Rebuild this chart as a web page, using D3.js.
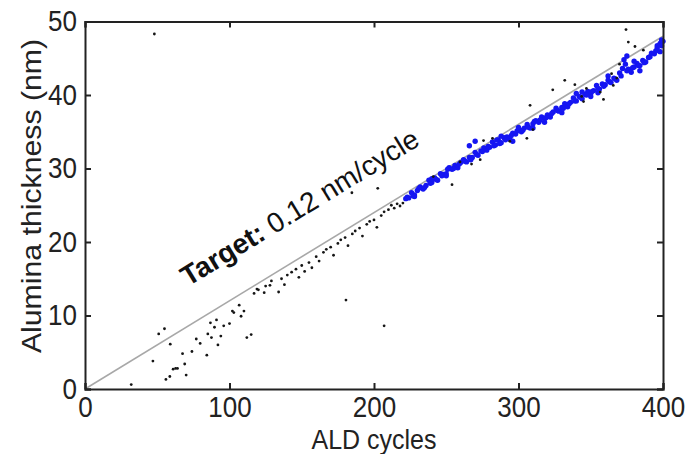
<!DOCTYPE html>
<html>
<head>
<meta charset="utf-8">
<script src="https://cdn.jsdelivr.net/npm/d3@7/dist/d3.min.js"></script>
<style>
  html, body { margin: 0; padding: 0; background: #fff; }
  svg { display: block; font-family: "Liberation Sans", Arial, Helvetica, sans-serif; }
</style>
</head>
<body>
<svg id="chart" width="686" height="454"></svg>
<script>
// Axis ticks
const xTicks = [0, 100, 200, 300, 400];
const yTicks = [0, 10, 20, 30, 40, 50];

// Target growth rate (nm per ALD cycle)
const targetRate = 0.12;
const targetCycles = [0, 400];

// In-situ measurements, early growth and stray readings (black)
const blackX = [32, 48, 47, 51, 55, 59, 56, 58.7, 61, 62.7, 64, 67.5, 70, 69, 74, 77, 79.7, 84.3, 85, 87.5,
  86.8, 89.6, 91, 92, 94, 96, 100, 102, 103, 106.7, 108, 110, 112, 115, 117, 119, 120, 124, 125, 128,
  129, 134, 136, 138, 140, 143, 146, 148, 150, 152, 155, 157, 160, 162, 165, 167, 170, 172, 175, 177,
  180, 180.6, 182, 185, 184.7, 187, 190, 192, 195, 197, 200, 202, 202.6, 205, 207, 207, 210, 212, 214, 216,
  218, 220,
  241, 254, 259.5, 267.5, 273.5, 275.8, 282, 294, 305.8, 308, 310, 323.7, 332, 339, 343.7, 345, 347,
  356.6, 358.8, 364.4, 365.6, 368, 369.9, 374.4, 376, 380.6, 386.4];
const blackY = [0.6, 48.3, 3.8, 7.5, 8.2, 6.1, 1.3, 1.7, 2.7, 2.8, 2.8, 4.8, 1.9, 3.4, 5.1, 6.8, 6.2, 4.6, 7.5, 7.0,
  9.0, 8.4, 9.4, 6.0, 7.2, 8.6, 8.9, 10.6, 10.4, 11.4, 9.9, 10.6, 7.0, 7.4, 13.0, 13.6, 13.5, 13.1, 14.0, 14.1,
  14.7, 13.2, 15.0, 14.2, 15.5, 15.9, 16.3, 15.2, 16.8, 16.0, 17.2, 16.5, 18.0, 17.4, 18.6, 19.0, 19.3, 18.2, 19.8, 20.3,
  20.6, 12.1, 19.5, 21.1, 26.7, 21.5, 21.9, 20.8, 22.4, 22.8, 23.0, 22.0, 27.3, 23.6, 24.1, 8.6, 24.4, 25.0, 24.6, 25.2,
  24.9, 25.3,
  28.9, 27.8, 30.9, 30.6, 31.2, 33.8, 34.1, 33.7, 34.1, 38.6, 35.3, 40.7, 42.0, 41.4, 39.8, 39.1, 40.9,
  40.4, 39.4, 42.9, 41.3, 42.3, 44.2, 48.9, 47.2, 46.6, 46.1];

// Later growth measurements (blue)
const blueX = [222, 224, 226, 228, 230, 232, 234, 236, 238, 240, 242, 244, 246, 248, 250, 252, 254, 256, 258, 260,
  262, 264, 266, 268, 270, 272, 274, 276, 278, 280, 282, 284, 286, 288, 290, 292, 294, 296, 298, 300,
  302, 304, 306, 308, 310, 312, 314, 316, 318, 320, 322, 324, 326, 328, 330, 332, 334, 336, 338, 340,
  342, 344, 346, 348, 350, 352, 354, 356, 358, 360, 362, 364, 366, 368, 370, 372, 374, 376, 378, 380,
  382, 384, 386, 388, 390, 392, 394, 396, 398, 400,
  223, 227, 231, 235, 239, 243, 247, 251, 255, 259, 263, 267, 271, 275, 279, 283, 287, 291, 295, 299,
  303, 307, 311, 315, 319, 323, 327, 331, 335, 339, 343, 347, 351, 355, 359, 363, 367, 371, 375, 379,
  383, 387, 391, 395, 399,
  266, 270, 285, 300, 296, 330, 350, 375, 373, 380, 384, 362, 340, 396, 399, 398, 355, 318, 310, 250,
  240, 228, 288, 344];
const blueY = [25.9, 26.0, 26.7, 26.4, 27.0, 27.5, 27.2, 27.7, 28.4, 28.1, 28.7, 28.4, 29.3, 29.2, 29.3, 30.1, 29.9, 30.4, 30.1, 30.8,
  31.2, 30.9, 31.5, 31.5, 32.2, 31.8, 32.4, 32.8, 32.5, 32.9, 33.6, 33.2, 33.9, 33.5, 34.2, 34.3, 34.0, 34.8, 34.7, 35.3,
  35.0, 35.5, 36.0, 35.5, 36.1, 36.5, 36.3, 37.0, 36.8, 37.3, 37.0, 37.7, 38.2, 37.8, 38.3, 38.8, 38.4, 39.0, 39.6, 39.2,
  39.8, 39.5, 40.1, 40.5, 40.2, 40.6, 41.3, 40.8, 41.5, 41.4, 42.0, 41.7, 42.3, 42.0, 43.0, 43.6, 44.2, 43.5, 43.1, 43.8,
  44.3, 44.0, 44.7, 44.5, 45.1, 45.7, 45.6, 46.4, 47.0, 47.3,
  26.1, 26.3, 27.3, 27.4, 28.0, 28.5, 29.0, 29.9, 30.0, 30.6, 31.0, 31.2, 31.9, 32.3, 33.0, 33.1, 33.4, 33.9, 34.5, 35.1,
  35.2, 35.6, 36.4, 36.6, 36.9, 37.5, 37.9, 38.2, 38.8, 39.2, 39.7, 40.0, 40.5, 40.9, 41.2, 41.8, 42.2, 42.6, 43.3, 43.7,
  44.0, 44.4, 45.2, 46.0, 46.7,
  33.1, 33.7, 33.9, 35.6, 33.7, 37.6, 39.8, 45.3, 44.8, 44.6, 43.3, 42.6, 40.2, 46.7, 47.5, 45.9, 40.3, 36.3, 35.5, 29.0,
  28.6, 26.2, 34.4, 40.4];

const svg = d3.select("#chart");
const margin = { left: 85, right: 23, top: 21.5, bottom: 65 };
const W = 686, H = 454;
const x = d3.scaleLinear().domain([0, 400]).range([margin.left, W - margin.right]);
const y = d3.scaleLinear().domain([0, 50]).range([H - margin.bottom, margin.top]);

const x0 = x.range()[0], x1 = x.range()[1];
const y0 = y.range()[0], y1 = y.range()[1];

// Axis text is set slightly tall
const textStretch = 1.1;
const fontSize = 25;

// Target line
svg.append("line")
  .attr("x1", x(targetCycles[0])).attr("y1", y(targetRate * targetCycles[0]))
  .attr("x2", x(targetCycles[1])).attr("y2", y(targetRate * targetCycles[1]))
  .attr("stroke", "#a8a8a8").attr("stroke-width", 1.6);

// Blue measurements
svg.append("g").selectAll("circle")
  .data(blueX.map((d, i) => [d, blueY[i]]))
  .join("circle")
  .attr("cx", d => x(d[0])).attr("cy", d => y(d[1]))
  .attr("r", 2.7).attr("fill", "#1515f2");

// Black measurements
svg.append("g").selectAll("circle")
  .data(blackX.map((d, i) => [d, blackY[i]]))
  .join("circle")
  .attr("cx", d => x(d[0])).attr("cy", d => y(d[1]))
  .attr("r", 1.4).attr("fill", "#151515");

// Annotation parallel to the target line
const angle = Math.atan2(y(0) - y(targetRate * 400), x(400) - x(0)) * 180 / Math.PI;
const label = svg.append("text")
  .attr("transform", `translate(${x(71.3)},${y(13.9)}) rotate(${-angle})`)
  .attr("font-size", 28).attr("fill", "#111");
label.append("tspan").attr("font-weight", "bold").text("Target:");
label.append("tspan").text(" 0.12 nm/cycle");

// Axes box with inward ticks on all four sides
const tickLen = 6;
const axisColor = "#222";
const axes = svg.append("g");
axes.append("g").attr("transform", `translate(0,${y0})`)
  .call(d3.axisBottom(x).tickValues(xTicks).tickSize(-tickLen).tickPadding(7).tickFormat(d3.format("d")));
axes.append("g").attr("transform", `translate(0,${y1})`)
  .call(d3.axisTop(x).tickValues(xTicks).tickSize(-tickLen).tickFormat(""));
axes.append("g").attr("transform", `translate(${x0},0)`)
  .call(d3.axisLeft(y).tickValues(yTicks).tickSize(-tickLen).tickPadding(8).tickFormat(d3.format("d")));
axes.append("g").attr("transform", `translate(${x1},0)`)
  .call(d3.axisRight(y).tickValues(yTicks).tickSize(-tickLen).tickFormat(""));
axes.selectAll(".domain").attr("stroke", axisColor).attr("stroke-width", 2);
axes.selectAll(".tick line").attr("stroke", axisColor).attr("stroke-width", 2);
axes.selectAll(".tick text").attr("font-size", 26).attr("fill", "#222")
  .attr("font-family", "Liberation Sans, Arial, sans-serif")
  .attr("transform", `scale(1,${textStretch})`);

// Axis titles
svg.append("text")
  .attr("transform", `translate(${(x0 + x1) / 2},449) scale(1,${textStretch})`)
  .attr("text-anchor", "middle").attr("font-size", fontSize).attr("fill", "#222")
  .text("ALD cycles");
svg.append("text")
  .attr("transform", `translate(41,196) rotate(-90) scale(1.12,1)`)
  .attr("text-anchor", "middle").attr("font-size", 27).attr("fill", "#222")
  .text("Alumina thickness (nm)");
</script>
</body>
</html>
